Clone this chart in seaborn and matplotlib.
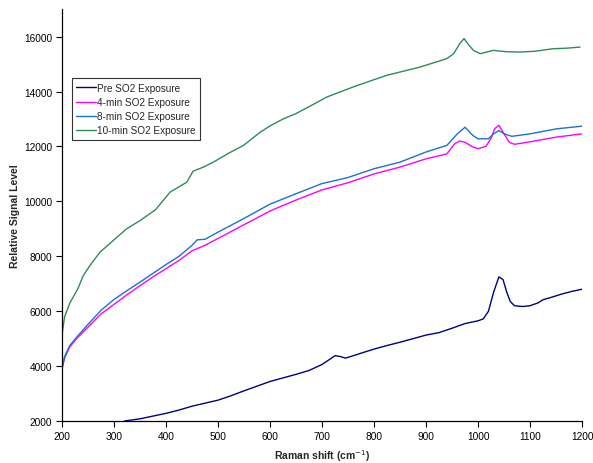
import numpy as np
import pandas as pd
import matplotlib
matplotlib.use("Agg")
import matplotlib.pyplot as plt
import seaborn as sns

series_names = ["Pre SO2 Exposure", "4-min SO2 Exposure", "8-min SO2 Exposure", "10-min SO2 Exposure"]
colors = ["#000080", "#FF00FF", "#1874CD", "#2E8B57"]

pre_x = [320, 350, 375, 400, 425, 450, 475, 500, 525, 550, 575, 600, 625, 650, 675, 700, 715, 725, 735, 745,
         760, 780, 800, 825, 850, 875, 900, 925, 950, 975, 1000, 1010, 1020, 1030, 1040, 1048, 1055, 1062, 1070,
         1085, 1100, 1115, 1125, 1140, 1160, 1180, 1200]
pre_y = [2000, 2080, 2180, 2280, 2400, 2540, 2650, 2760, 2920, 3100, 3270, 3440, 3570, 3700, 3840, 4060, 4250, 4380, 4350, 4290,
         4380, 4500, 4620, 4750, 4870, 5000, 5130, 5220, 5380, 5550, 5650, 5720, 6000, 6700, 7250, 7150, 6700, 6350, 6200,
         6170, 6200, 6300, 6420, 6500, 6620, 6720, 6800]

m4_x = [200, 205, 215, 228, 250, 275, 300, 325, 350, 375, 400, 425, 450, 475, 500, 550, 600, 650, 700, 750, 800, 850,
        900, 940, 955, 965, 975, 990, 1000, 1015, 1025, 1032, 1040, 1050, 1060, 1070, 1100, 1150, 1200]
m4_y = [3900, 4300, 4700, 5000, 5420, 5900, 6250, 6600, 6930, 7250, 7550, 7850, 8200, 8400, 8650, 9150, 9650, 10050, 10420, 10680, 11000, 11250,
        11550, 11730, 12100, 12200, 12150, 11980, 11920, 12000, 12300, 12650, 12770, 12460, 12150, 12080, 12170, 12340, 12460]

m8_x = [200, 205, 215, 228, 250, 275, 300, 325, 350, 375, 400, 425, 450, 460, 475, 500, 550, 600, 650, 700, 750, 800, 850,
        900, 940, 960, 975, 990, 1000, 1020, 1030, 1040, 1050, 1065, 1100, 1150, 1200]
m8_y = [3900, 4350, 4750, 5050, 5520, 6030, 6430, 6750, 7060, 7380, 7700, 8000, 8400, 8600, 8620, 8880, 9380, 9900, 10280, 10650, 10870, 11190, 11430,
        11800, 12040, 12460, 12700, 12400, 12280, 12280, 12460, 12580, 12460, 12370, 12460, 12640, 12740]

m10_x = [200, 205, 215, 230, 241, 255, 273, 300, 324, 350, 380, 408, 440, 452, 472, 491, 520, 549, 581, 600, 625, 650, 680,
         709, 760, 824, 888, 940, 953, 965, 973, 982, 991, 1004, 1029, 1055, 1081, 1110, 1144, 1170, 1196]
m10_y = [5150, 5800, 6300, 6800, 7300, 7700, 8150, 8600, 9000, 9300, 9700, 10340, 10700, 11100, 11250, 11430, 11750, 12040, 12520, 12750, 13000, 13200, 13500,
         13800, 14170, 14590, 14890, 15200, 15380, 15750, 15930, 15700, 15500, 15380, 15500, 15450, 15440, 15470, 15560, 15580, 15620]

xs = [pre_x, m4_x, m8_x, m10_x]
ys = [pre_y, m4_y, m8_y, m10_y]
frames = []
for name, x, y in zip(series_names, xs, ys):
    frames.append(pd.DataFrame({"x": x, "y": y, "series": name}))
df = pd.concat(frames, ignore_index=True)

sns.set_style("white")
plt.rcParams['font.family'] = ['Liberation Sans', 'DejaVu Sans']

fig = plt.figure(figsize=(5.93, 4.64), dpi=100)
ax = fig.add_axes([0.1046, 0.0905, 0.877, 0.8875])
sns.lineplot(data=df, x="x", y="y", hue="series", hue_order=series_names,
             palette=colors, estimator=None, sort=True, linewidth=1.0, ax=ax)

ax.set_xlim(200, 1200)
ax.set_ylim(2000, 17000)
ax.set_xticks(np.arange(200, 1201, 100))
ax.set_yticks(np.arange(2000, 16001, 2000))
ax.tick_params(axis="both", direction="out", length=4, width=0.8, labelsize=7.3, colors="black", pad=3)
ax.tick_params(axis="both", bottom=True, left=True)
for s in ["top", "right"]:
    ax.spines[s].set_visible(False)
for s in ["left", "bottom"]:
    ax.spines[s].set_color("black")
    ax.spines[s].set_linewidth(0.9)

ax.set_xlabel("Raman shift (cm$^{-1}$)", fontsize=7.5, fontweight="bold")
ax.set_ylabel("Relative Signal Level", fontsize=7.5, fontweight="bold")
ax.xaxis.set_label_coords(0.5, -0.063)
ax.yaxis.set_label_coords(-0.08, 0.5)

leg = ax.legend(loc="upper left", bbox_to_anchor=(0.019, 0.832), fontsize=7.2, frameon=True,
                fancybox=False, edgecolor="black", handlelength=2.0, handletextpad=0.1,
                borderpad=0.45, labelspacing=0.42, borderaxespad=0)
leg.get_frame().set_linewidth(0.8)
leg.set_title(None)

fig.savefig("out.png", dpi=100)
